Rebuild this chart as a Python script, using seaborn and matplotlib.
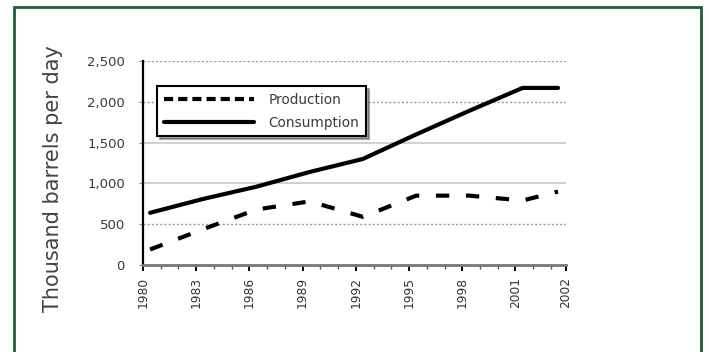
import numpy as np
import pandas as pd
import matplotlib
matplotlib.use("Agg")
import matplotlib.pyplot as plt
from matplotlib.patches import Rectangle
from matplotlib.lines import Line2D
from matplotlib.ticker import FixedLocator, FuncFormatter
import seaborn as sns

# ---- data ----
years = [1980, 1983, 1986, 1989, 1992, 1995, 1998, 2001, 2003]
production = [190, 440, 680, 780, 590, 850, 850, 790, 900]
consumption = [640, 810, 960, 1140, 1300, 1600, 1890, 2170, 2170]
series_names = ["Production", "Consumption"]
x_tick_labels = ["1980", "1983", "1986", "1989", "1992", "1995", "1998", "2001", "2002"]
y_ticks = [0, 500, 1000, 1500, 2000, 2500]
y_label = "Thousand barrels per day"

df = pd.DataFrame({
    "Year": years * 2,
    "Value": production + consumption,
    "Series": [series_names[0]] * len(years) + [series_names[1]] * len(years),
})

sns.set_theme(style="white")
plt.rcParams["font.family"] = ["DejaVu Sans"]

fig = plt.figure(figsize=(7.09, 3.52), dpi=100)
ax = fig.add_axes([143 / 709, 1 - 265 / 352, (566 - 143) / 709, (265 - 61) / 352])

sns.lineplot(
    data=df, x="Year", y="Value", hue="Series", style="Series",
    palette={"Production": "black", "Consumption": "black"},
    dashes={"Production": (3.2, 4.0), "Consumption": ""},
    linewidth=3.0, ax=ax, legend=False,
)

X_LEFT, X_RIGHT = 1979.6, 2003.45
ax.set_xlim(X_LEFT, X_RIGHT)
ax.set_ylim(0, 2500)

major_pos = [X_LEFT + 3 * k for k in range(8)] + [X_RIGHT]
minor_pos = [X_LEFT + k for k in range(24) if k % 3 != 0]
ax.xaxis.set_major_locator(FixedLocator(major_pos))
ax.xaxis.set_minor_locator(FixedLocator(minor_pos))
ax.set_xticklabels(x_tick_labels, rotation=90, fontsize=8.8, color="#333333",
                   va="top", ha="center")
ax.tick_params(axis="x", which="major", direction="out", length=4.5, width=1.4,
               color="black", pad=4, bottom=True)
ax.tick_params(axis="x", which="minor", direction="out", length=3, width=1.0,
               color="#555555", bottom=True)

ax.set_yticks(y_ticks)
ax.yaxis.set_major_formatter(FuncFormatter(lambda v, p: f"{int(v):,}"))
ax.tick_params(axis="y", which="major", direction="out", length=3, width=0.8,
               color="#888888", labelsize=9.5, labelcolor="#3a3a3a", pad=10, left=True)

ax.set_xlabel("")
ax.set_ylabel(y_label, fontsize=15, color="#444444")
ax.yaxis.set_label_coords((63 - 143) / 423, (265 - 179) / 204)

# grid: dotted at 500, 2000, 2500; solid light at 1000, 1500
ax.yaxis.grid(True)
for val, gl in zip(y_ticks, ax.get_ygridlines()):
    if val == 0:
        gl.set_visible(False)
    elif val in (1000, 1500):
        gl.set_linestyle("-")
        gl.set_color("#c8c8c8")
        gl.set_linewidth(1.2)
    else:
        gl.set_linestyle((0, (1.5, 1.5)))
        gl.set_color("#9a9a9a")
        gl.set_linewidth(1.0)
ax.xaxis.grid(False)

for s in ("top", "right"):
    ax.spines[s].set_visible(False)
ax.spines["left"].set_color("black")
ax.spines["left"].set_linewidth(1.6)
ax.spines["bottom"].set_color("#777777")
ax.spines["bottom"].set_linewidth(2.0)
ax.patch.set_alpha(0)

# legend
handles = [
    Line2D([], [], color="black", lw=3.0, dashes=(2.2, 1.2)),
    Line2D([], [], color="black", lw=3.0),
]
leg = ax.legend(handles, series_names, loc="upper left",
                bbox_to_anchor=((157 - 143) / 423, (265 - 86) / 204),
                borderaxespad=0, frameon=True, fancybox=False, shadow=True,
                fontsize=9.8, handlelength=6.6, handletextpad=1.1,
                labelspacing=0.65, borderpad=0.5, labelcolor="#3a3a3a")
leg.get_frame().set_edgecolor("black")
leg.get_frame().set_linewidth(1.5)
leg.get_frame().set_facecolor("white")
leg.get_frame().set_alpha(1)

# green outer border (open at the bottom edge of the image)
fig.patches.append(Rectangle((14 / 709, -0.05), (700.5 - 14) / 709, 1.05 - 7 / 352,
                             transform=fig.transFigure, fill=False,
                             edgecolor="#1d5e38", linewidth=2.0, clip_on=False))

fig.savefig("out.png", dpi=100, facecolor="white")
